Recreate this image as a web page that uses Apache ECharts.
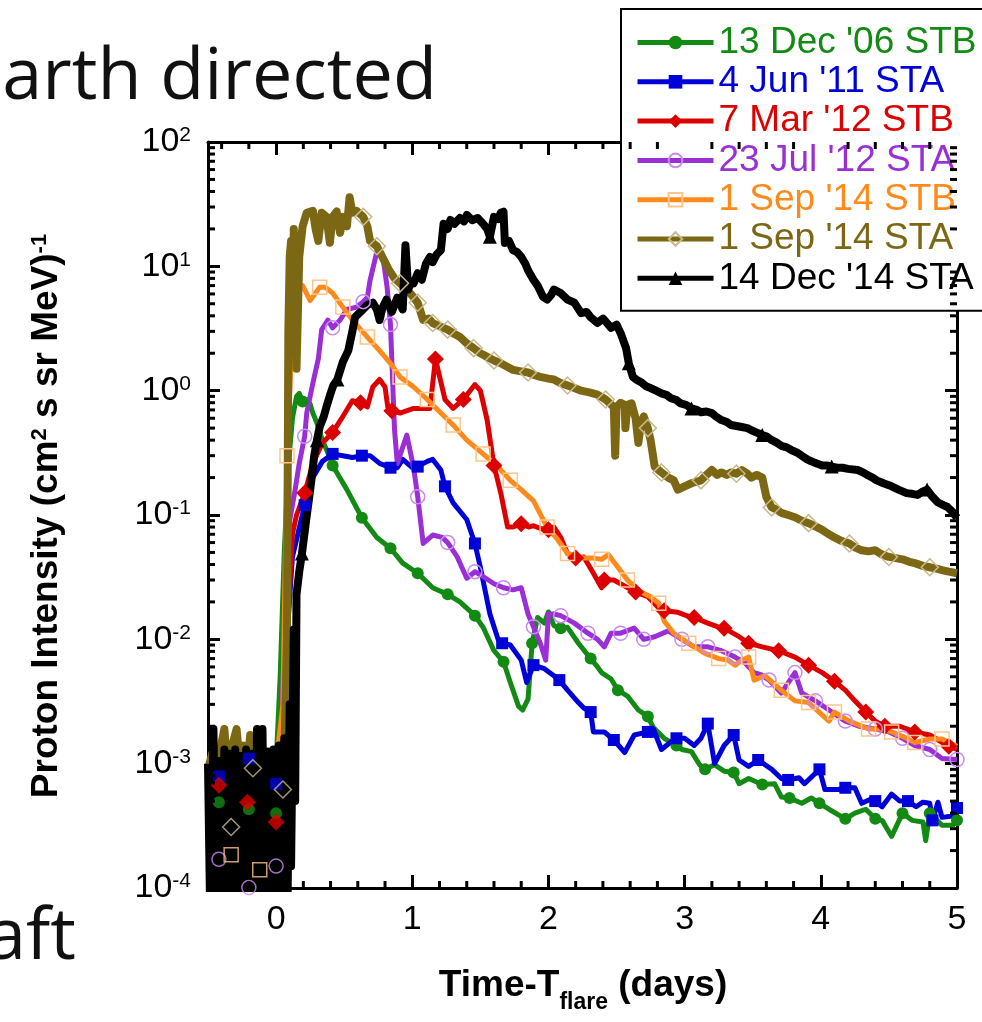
<!DOCTYPE html>
<html>
<head>
<meta charset="utf-8">
<title>Proton intensity time profiles</title>
<script src="https://cdn.jsdelivr.net/npm/echarts@6/dist/echarts.min.js"></script>
<style>
  html, body { margin: 0; padding: 0; background: #fff; }
  #chart { width: 982px; height: 1022px; }
</style>
</head>
<body>
<div id="chart"></div>
<script>
// ---- Event names (legend order) ----
const eventNames = ["13 Dec '06 STB", "4 Jun '11 STA", "7 Mar '12 STB", "23 Jul '12 STA",
                    "1 Sep '14 STB", "1 Sep '14 STA", "14 Dec '14 STA"];

// ---- Time profiles: [time - T_flare (days), intensity (cm^2 s sr MeV)^-1] ----
const dec06Stb = [
  [0.0, 1e-3], [0.03, 0.005], [0.06, 0.05], [0.09, 0.25], [0.12, 0.6], [0.15, 0.9], [0.17, 0.95],
  [0.195, 0.82], [0.225, 0.85], [0.25, 0.78], [0.27, 0.66], [0.30, 0.55], [0.34, 0.4], [0.395, 0.29],
  [0.415, 0.25], [0.52, 0.16], [0.63, 0.095], [0.74, 0.066], [0.84, 0.054], [0.93, 0.041], [1.04, 0.034],
  [1.15, 0.026], [1.26, 0.023], [1.35, 0.02], [1.46, 0.0155], [1.52, 0.0125], [1.60, 0.0081], [1.67, 0.0066],
  [1.72, 0.0045], [1.78, 0.0029], [1.81, 0.0027], [1.85, 0.0033], [1.88, 0.0093], [1.92, 0.015], [1.97, 0.0135],
  [2.00, 0.0166], [2.04, 0.0129], [2.09, 0.0123], [2.14, 0.0125], [2.22, 0.0093], [2.31, 0.0070], [2.36, 0.006],
  [2.39, 0.0054], [2.46, 0.0048], [2.51, 0.0039], [2.58, 0.0035], [2.66, 0.0027], [2.73, 0.0024], [2.77, 0.00195],
  [2.85, 0.0016], [2.94, 0.0014], [2.98, 0.0013], [3.05, 0.00125], [3.11, 0.00098], [3.15, 0.0009], [3.22, 0.00098],
  [3.29, 0.00087], [3.36, 0.00085], [3.40, 0.00069], [3.47, 0.00076], [3.57, 0.00068], [3.66, 0.00069],
  [3.71, 0.00054], [3.77, 0.00053], [3.86, 0.00048], [3.93, 0.00053], [3.99, 0.00048], [4.06, 0.00043],
  [4.18, 0.00036], [4.25, 0.00040], [4.33, 0.00043], [4.40, 0.00036], [4.45, 0.00035], [4.52, 0.00026],
  [4.60, 0.0004], [4.67, 0.00035], [4.75, 0.00034], [4.77, 0.00024], [4.80, 0.0004], [4.89, 0.00032],
  [4.97, 0.00032], [5.0, 0.00035]
];
const jun11Sta = [
  [0.0, 1e-3], [0.05, 2e-3], [0.09, 0.015], [0.12, 0.046], [0.21, 0.12], [0.27, 0.2], [0.34, 0.27],
  [0.415, 0.31], [0.49, 0.30], [0.56, 0.29], [0.63, 0.30], [0.69, 0.30], [0.76, 0.26], [0.84, 0.24],
  [0.89, 0.24], [0.93, 0.28], [1.00, 0.24], [1.04, 0.245], [1.11, 0.27], [1.15, 0.28], [1.21, 0.23],
  [1.24, 0.17], [1.30, 0.125], [1.40, 0.092], [1.46, 0.059], [1.50, 0.038], [1.57, 0.016], [1.63, 0.01],
  [1.66, 0.0093], [1.72, 0.009], [1.80, 0.0068], [1.84, 0.0045], [1.89, 0.0062], [1.97, 0.0058],
  [2.04, 0.0051], [2.08, 0.0047], [2.14, 0.0039], [2.22, 0.0031], [2.26, 0.0028], [2.31, 0.0026],
  [2.33, 0.0018], [2.41, 0.0018], [2.48, 0.00155], [2.56, 0.00123], [2.63, 0.0017], [2.73, 0.0018],
  [2.77, 0.0019], [2.83, 0.0013], [2.90, 0.0015], [2.94, 0.0016], [3.00, 0.0016], [3.07, 0.0014],
  [3.12, 0.0016], [3.17, 0.0021], [3.22, 0.001], [3.29, 0.0014], [3.36, 0.0017], [3.40, 0.00107],
  [3.47, 0.00095], [3.54, 0.00107], [3.64, 0.0009], [3.71, 0.00076], [3.76, 0.00074], [3.84, 0.00077],
  [3.88, 0.00069], [3.99, 0.0009], [4.03, 0.00062], [4.13, 0.00062], [4.18, 0.00064], [4.25, 0.00064],
  [4.30, 0.00048], [4.37, 0.00052], [4.40, 0.0005], [4.45, 0.00045], [4.52, 0.00057], [4.58, 0.0005],
  [4.64, 0.0005], [4.70, 0.00045], [4.75, 0.00049], [4.80, 0.00048], [4.82, 0.00035], [4.86, 0.00049],
  [4.89, 0.00037], [4.97, 0.00038], [5.0, 0.00044]
];
const mar12Stb = [
  [0.0, 1e-3], [0.04, 1.5e-3], [0.08, 0.01], [0.12, 0.07], [0.15, 0.1], [0.21, 0.15], [0.27, 0.26],
  [0.34, 0.38], [0.415, 0.46], [0.49, 0.62], [0.56, 0.83], [0.62, 0.80], [0.67, 0.74], [0.71, 1.07],
  [0.76, 1.23], [0.80, 1.07], [0.82, 0.74], [0.85, 0.69], [0.91, 0.66], [1.01, 0.72], [1.13, 0.72],
  [1.17, 1.8], [1.24, 0.85], [1.30, 0.72], [1.375, 0.85], [1.46, 1.12], [1.50, 1.0], [1.55, 0.58],
  [1.60, 0.25], [1.65, 0.15], [1.70, 0.08], [1.74, 0.08], [1.80, 0.085], [1.855, 0.08], [1.89, 0.082],
  [1.94, 0.078], [2.00, 0.076], [2.04, 0.08], [2.09, 0.066], [2.14, 0.049], [2.20, 0.045], [2.26, 0.046],
  [2.33, 0.034], [2.39, 0.026], [2.41, 0.030], [2.48, 0.030], [2.61, 0.025], [2.64, 0.024], [2.73, 0.022],
  [2.83, 0.017], [2.85, 0.017], [2.95, 0.0165], [3.05, 0.015], [3.07, 0.015], [3.17, 0.0135], [3.27, 0.0123],
  [3.29, 0.0123], [3.40, 0.0105], [3.47, 0.0093], [3.57, 0.0087], [3.69, 0.0081], [3.81, 0.0072],
  [3.91, 0.0062], [4.01, 0.0054], [4.10, 0.0046], [4.18, 0.0039], [4.25, 0.0032], [4.33, 0.0026],
  [4.40, 0.0022], [4.47, 0.002], [4.58, 0.002], [4.69, 0.0018], [4.80, 0.0017], [4.94, 0.00138], [5.0, 0.0013]
];
const jul12Sta = [
  [0.0, 1e-3], [0.04, 2e-3], [0.07, 0.02], [0.10, 0.09], [0.14, 0.16], [0.17, 0.26], [0.21, 0.43],
  [0.225, 0.66], [0.25, 0.9], [0.28, 1.29], [0.31, 1.8], [0.335, 3.1], [0.38, 3.7], [0.415, 3.2],
  [0.47, 3.7], [0.52, 4.5], [0.59, 4.7], [0.64, 5.2], [0.67, 5.6], [0.69, 7.7], [0.73, 11.8], [0.75, 14.4],
  [0.785, 11.8], [0.815, 6.8], [0.84, 3.4], [0.86, 0.9], [0.87, 0.48], [0.89, 0.26], [0.96, 0.44],
  [1.01, 0.24], [1.04, 0.14], [1.08, 0.059], [1.15, 0.069], [1.22, 0.066], [1.26, 0.06], [1.33, 0.046],
  [1.40, 0.031], [1.46, 0.035], [1.52, 0.032], [1.60, 0.028], [1.67, 0.026], [1.74, 0.025], [1.80, 0.026],
  [1.85, 0.016], [1.89, 0.0126], [1.94, 0.0093], [1.98, 0.0068], [2.00, 0.016], [2.04, 0.016], [2.09, 0.0155],
  [2.19, 0.0135], [2.29, 0.0112], [2.36, 0.01], [2.41, 0.0087], [2.46, 0.0112], [2.53, 0.0112], [2.63, 0.0123],
  [2.70, 0.01], [2.78, 0.0105], [2.88, 0.0117], [2.98, 0.01], [3.07, 0.0087], [3.17, 0.0087], [3.27, 0.0081],
  [3.37, 0.0072], [3.44, 0.0065], [3.51, 0.0054], [3.56, 0.0052], [3.62, 0.0047], [3.71, 0.0037],
  [3.81, 0.0054], [3.86, 0.0037], [3.96, 0.0032], [4.06, 0.0027], [4.18, 0.0022], [4.28, 0.002],
  [4.40, 0.0019], [4.50, 0.0018], [4.60, 0.0016], [4.69, 0.0014], [4.80, 0.0013], [4.89, 0.0011], [5.0, 0.00108]
];
const sep14Stb = [
  [0.0, 1e-3], [0.05, 3e-3], [0.08, 0.3], [0.11, 1.66], [0.16, 6.1], [0.195, 7.0], [0.25, 5.3], [0.32, 6.8],
  [0.36, 6.8], [0.415, 6.1], [0.49, 4.7], [0.56, 3.7], [0.67, 2.7], [0.76, 2.1], [0.84, 1.66], [0.91, 1.29],
  [1.01, 1.07], [1.11, 0.85], [1.21, 0.66], [1.30, 0.53], [1.40, 0.40], [1.52, 0.31], [1.62, 0.25],
  [1.72, 0.19], [1.80, 0.16], [1.89, 0.13], [1.99, 0.08], [2.06, 0.065], [2.14, 0.049], [2.26, 0.045],
  [2.33, 0.045], [2.39, 0.044], [2.44, 0.048], [2.51, 0.038], [2.58, 0.030], [2.68, 0.024], [2.75, 0.022],
  [2.81, 0.0195], [2.85, 0.014], [2.92, 0.0112], [3.03, 0.0093], [3.15, 0.0077], [3.25, 0.007],
  [3.32, 0.0068], [3.37, 0.0062], [3.42, 0.0068], [3.47, 0.0072], [3.51, 0.0047], [3.59, 0.0051],
  [3.71, 0.0039], [3.81, 0.0032], [3.91, 0.0031], [4.06, 0.0022], [4.10, 0.0026], [4.21, 0.0022],
  [4.35, 0.0019], [4.45, 0.0019], [4.52, 0.0018], [4.60, 0.00166], [4.69, 0.00148], [4.80, 0.00158],
  [4.89, 0.00158], [5.0, 0.00138]
];
const sep14Sta = [
  [-0.50, 9e-4], [-0.47, 1.2e-3], [-0.44, 8e-4], [-0.41, 1.3e-3], [-0.38, 1.9e-3], [-0.36, 1.0e-3],
  [-0.33, 1.3e-3], [-0.29, 1.9e-3], [-0.27, 1.1e-3], [-0.24, 1.4e-3], [-0.21, 1.0e-3], [-0.19, 1.7e-3],
  [-0.16, 1.1e-3], [-0.13, 1.2e-3], [-0.10, 9e-4], [-0.06, 1.1e-3], [-0.02, 1.0e-3], [0.02, 1.2e-3],
  [0.06, 1.1e-3], [0.08, 0.01], [0.09, 3], [0.10, 12], [0.11, 16], [0.12, 2], [0.13, 20], [0.15, 1.5],
  [0.17, 12], [0.195, 21], [0.225, 27], [0.27, 28], [0.29, 20], [0.31, 16], [0.335, 27], [0.37, 25],
  [0.395, 15.5], [0.415, 25], [0.445, 27.6], [0.47, 18.6], [0.49, 25], [0.52, 21], [0.54, 36], [0.56, 27],
  [0.59, 28], [0.64, 25], [0.67, 21], [0.69, 16], [0.74, 14.5], [0.78, 11.9], [0.83, 9.3], [0.87, 8],
  [0.91, 7.3], [0.96, 6.5], [1.00, 5.8], [1.04, 5.1], [1.08, 3.7], [1.12, 3.8], [1.15, 3.5], [1.20, 3.3],
  [1.26, 3.1], [1.30, 2.9], [1.35, 2.7], [1.40, 2.4], [1.45, 2.2], [1.50, 2.0], [1.55, 1.87], [1.60, 1.75],
  [1.65, 1.66], [1.70, 1.55], [1.74, 1.47], [1.80, 1.43], [1.85, 1.4], [1.90, 1.33], [1.94, 1.29],
  [2.00, 1.25], [2.04, 1.23], [2.09, 1.15], [2.14, 1.1], [2.19, 1.05], [2.24, 1.0], [2.30, 0.97],
  [2.36, 0.93], [2.42, 0.85], [2.48, 0.74], [2.49, 0.30], [2.50, 0.74], [2.53, 0.8], [2.56, 0.77],
  [2.565, 0.5], [2.58, 0.77], [2.61, 0.79], [2.64, 0.6], [2.66, 0.38], [2.68, 0.55], [2.70, 0.62],
  [2.73, 0.5], [2.75, 0.40], [2.78, 0.245], [2.83, 0.22], [2.88, 0.2], [2.92, 0.19], [2.95, 0.16],
  [3.00, 0.17], [3.05, 0.18], [3.12, 0.19], [3.16, 0.21], [3.20, 0.23], [3.24, 0.21], [3.27, 0.22],
  [3.31, 0.21], [3.34, 0.22], [3.38, 0.215], [3.42, 0.23], [3.46, 0.215], [3.49, 0.2], [3.53, 0.21],
  [3.57, 0.2], [3.60, 0.14], [3.64, 0.115], [3.68, 0.11], [3.71, 0.104], [3.76, 0.1], [3.81, 0.096],
  [3.86, 0.09], [3.91, 0.086], [3.96, 0.081], [4.01, 0.076], [4.05, 0.071], [4.10, 0.066], [4.15, 0.062],
  [4.21, 0.059], [4.25, 0.055], [4.30, 0.052], [4.35, 0.051], [4.40, 0.052], [4.45, 0.048], [4.50, 0.046],
  [4.55, 0.045], [4.60, 0.044], [4.65, 0.042], [4.69, 0.041], [4.75, 0.039], [4.80, 0.038], [4.85, 0.037],
  [4.89, 0.036], [4.94, 0.035], [5.0, 0.034]
];
const dec14Sta = [
  [-0.50, 1.0e-3], [-0.48, 3e-5], [-0.46, 1.9e-3], [-0.44, 3e-5], [-0.42, 1.05e-3], [-0.40, 3e-5],
  [-0.38, 1.3e-3], [-0.36, 3e-5], [-0.34, 1.2e-3], [-0.32, 3e-5], [-0.30, 1.3e-3], [-0.28, 3e-5],
  [-0.26, 1.15e-3], [-0.24, 3e-5], [-0.22, 1.3e-3], [-0.20, 3e-5], [-0.18, 1.2e-3], [-0.16, 3e-5],
  [-0.14, 1.9e-3], [-0.12, 3e-5], [-0.10, 1.9e-3], [-0.08, 3e-5], [-0.06, 1.25e-3], [-0.04, 3e-5],
  [-0.02, 1.3e-3], [0.00, 3e-5], [0.02, 1.4e-3], [0.04, 3e-5], [0.06, 1.6e-3], [0.08, 3e-5],
  [0.10, 3e-3], [0.11, 1.5e-4], [0.13, 0.012], [0.14, 5e-4], [0.15, 0.023], [0.17, 0.035], [0.19, 0.049],
  [0.22, 0.09], [0.25, 0.158], [0.28, 0.3], [0.30, 0.4], [0.32, 0.51], [0.35, 0.62], [0.37, 0.74],
  [0.40, 0.95], [0.42, 1.1], [0.45, 1.23], [0.49, 1.7], [0.53, 2.1], [0.56, 3.0], [0.58, 3.9], [0.62, 4.3],
  [0.67, 4.9], [0.71, 5.1], [0.74, 4.5], [0.76, 3.7], [0.78, 4.6], [0.81, 5.4], [0.85, 4.3], [0.89, 5.6],
  [0.93, 4.5], [0.95, 14.8], [0.97, 6.5], [0.99, 7.5], [1.01, 7.3], [1.04, 8.8], [1.07, 7.8], [1.10, 10.5],
  [1.13, 11.9], [1.15, 10.8], [1.18, 12.5], [1.21, 13.5], [1.23, 22], [1.26, 20], [1.28, 23.6], [1.31, 22],
  [1.35, 24.5], [1.38, 23], [1.40, 25.9], [1.44, 23.5], [1.48, 24.5], [1.52, 22], [1.55, 20], [1.57, 17.3],
  [1.60, 25], [1.63, 24], [1.65, 27], [1.67, 27.5], [1.68, 15.4], [1.71, 16], [1.74, 13.5], [1.77, 13],
  [1.80, 11.9], [1.83, 10.5], [1.85, 9.3], [1.89, 7.8], [1.92, 7.0], [1.96, 5.7], [1.99, 5.4], [2.02, 5.9],
  [2.04, 6.5], [2.09, 6.1], [2.14, 5.4], [2.19, 5.1], [2.24, 4.2], [2.28, 4.3], [2.31, 3.9], [2.36, 3.5],
  [2.40, 3.8], [2.42, 3.6], [2.46, 3.2], [2.50, 3.4], [2.53, 2.9], [2.57, 2.2], [2.59, 1.66], [2.62, 1.29],
  [2.65, 1.22], [2.68, 1.17], [2.72, 1.08], [2.75, 1.05], [2.79, 1.0], [2.83, 0.95], [2.87, 0.92],
  [2.90, 0.87], [2.94, 0.84], [2.97, 0.79], [3.01, 0.77], [3.05, 0.72], [3.09, 0.70], [3.12, 0.67],
  [3.16, 0.68], [3.20, 0.66], [3.23, 0.62], [3.27, 0.58], [3.31, 0.56], [3.34, 0.53], [3.38, 0.52],
  [3.42, 0.51], [3.46, 0.50], [3.49, 0.48], [3.53, 0.46], [3.57, 0.44], [3.60, 0.43], [3.64, 0.40],
  [3.68, 0.38], [3.71, 0.36], [3.75, 0.35], [3.79, 0.33], [3.82, 0.32], [3.86, 0.30], [3.90, 0.28],
  [3.93, 0.27], [3.97, 0.26], [4.01, 0.25], [4.05, 0.25], [4.08, 0.245], [4.12, 0.24], [4.16, 0.24],
  [4.20, 0.235], [4.27, 0.23], [4.31, 0.22], [4.34, 0.21], [4.38, 0.20], [4.41, 0.19], [4.46, 0.18],
  [4.52, 0.17], [4.57, 0.16], [4.63, 0.15], [4.67, 0.148], [4.71, 0.145], [4.75, 0.155], [4.78, 0.16],
  [4.82, 0.14], [4.86, 0.126], [4.90, 0.12], [4.93, 0.116], [4.97, 0.105], [5.0, 0.095]
];

// ---- Times at which each profile carries a plot symbol ----
const dec06StbMarks = [0.195, 0.415, 0.63, 0.84, 1.04, 1.26, 1.46, 1.67, 1.88, 2.09, 2.31, 2.51, 2.73, 2.94,
                       3.15, 3.36, 3.57, 3.77, 3.99, 4.18, 4.40, 4.60, 4.80, 5.0];
const jun11StaMarks = [0.21, 0.415, 0.63, 0.84, 1.04, 1.24, 1.46, 1.66, 1.89, 2.08, 2.31, 2.48, 2.73, 2.94,
                       3.17, 3.36, 3.54, 3.76, 3.99, 4.18, 4.40, 4.64, 4.82, 5.0];
const mar12StbMarks = [0.21, 0.415, 0.62, 0.85, 1.17, 1.375, 1.60, 1.80, 2.00, 2.20, 2.41, 2.64, 2.85, 3.07,
                       3.29, 3.47, 3.69, 3.91, 4.10, 4.33, 4.47, 4.69, 4.94];
const jul12StaMarks = [0.21, 0.415, 0.64, 0.84, 1.04, 1.26, 1.46, 1.67, 1.89, 2.09, 2.29, 2.53, 2.70, 2.98,
                       3.17, 3.37, 3.62, 3.81, 3.96, 4.18, 4.40, 4.60, 4.80, 5.0];
const sep14StbMarks = [0.08, 0.32, 0.49, 0.67, 0.91, 1.11, 1.30, 1.52, 1.72, 1.99, 2.14, 2.39, 2.58, 2.81,
                       3.03, 3.25, 3.47, 3.71, 3.91, 4.10, 4.35, 4.52, 4.69, 4.89];
const sep14StaMarks = [0.64, 0.74, 0.91, 1.04, 1.15, 1.26, 1.45, 1.60, 1.85, 2.14, 2.42, 2.73, 2.83, 3.12,
                       3.38, 3.64, 3.91, 4.21, 4.50, 4.80];
const dec14StaMarks = [0.19, 0.30, 0.45, 1.57, 2.59, 3.05, 3.57, 4.08, 4.78];

// ---- Pre-flare background samples (symbols only) ----
const dec06StbPre = [[-0.42, 4.9e-4], [-0.20, 4.3e-4], [0.0, 4.0e-4]];
const jun11StaPre = [[-0.42, 7.9e-4], [-0.20, 1.1e-3], [0.0, 6.9e-4]];
const mar12StbPre = [[-0.42, 6.7e-4], [-0.21, 4.9e-4], [0.0, 3.4e-4]];
const jul12StaPre = [[-0.42, 1.7e-4], [-0.20, 1.01e-4], [0.0, 1.5e-4]];
const sep14StbPre = [[-0.33, 1.85e-4], [-0.12, 1.4e-4]];
const sep14StaPre = [[-0.33, 3.1e-4], [-0.17, 9.2e-4], [0.05, 6.2e-4]];

// ---- Axis ranges and minor tick positions ----
const xRange = [-0.5, 5];
const yRange = [1e-4, 1e2];
const xMinorTicks = [-0.4, -0.2, 0.2, 0.4, 0.6, 0.8, 1.2, 1.4, 1.6, 1.8, 2.2, 2.4, 2.6, 2.8,
                     3.2, 3.4, 3.6, 3.8, 4.2, 4.4, 4.6, 4.8];
const yMinorMantissas = [2, 3, 4, 5, 6, 7, 8, 9];
const yDecades = [-4, -3, -2, -1, 0, 1];

// ---- Styling per event ----
const styles = [
  { color: '#138a13', symbol: 'circle', size: 12, width: 5, item: { color: '#138a13' } },
  { color: '#0000d8', symbol: 'rect', size: 12, width: 5, item: { color: '#0000d8' } },
  { color: '#dc0000', symbol: 'diamond', size: 17, width: 5, item: { color: '#dc0000' } },
  { color: '#9a2fd6', symbol: 'circle', size: 14, width: 5,
    item: { color: 'rgba(255,255,255,0)', borderColor: '#c88cf0', borderWidth: 1.5 } },
  { color: '#ff8a1c', symbol: 'rect', size: 14, width: 5,
    item: { color: 'rgba(255,255,255,0)', borderColor: '#ffc48a', borderWidth: 1.5 } },
  { color: '#7c6814', symbol: 'diamond', size: 17, width: 8,
    item: { color: 'rgba(255,255,255,0)', borderColor: '#c9b98a', borderWidth: 1.5 } },
  { color: '#000000', symbol: 'triangle', size: 14, width: 8, item: { color: '#000000' } }
];
const profiles = [dec06Stb, jun11Sta, mar12Stb, jul12Sta, sep14Stb, sep14Sta, dec14Sta];
const marks = [dec06StbMarks, jun11StaMarks, mar12StbMarks, jul12StaMarks, sep14StbMarks, sep14StaMarks, dec14StaMarks];
const preFlare = [dec06StbPre, jun11StaPre, mar12StbPre, jul12StaPre, sep14StbPre, sep14StaPre, null];

const FONT = '"Liberation Sans", Arial, sans-serif';

function profileSeries(i) {
  const st = styles[i];
  const markSet = new Set(marks[i]);
  return {
    type: 'line',
    name: eventNames[i],
    data: profiles[i].map(p => markSet.has(p[0]) ? p : { value: p, symbol: 'none' }),
    symbol: st.symbol,
    symbolSize: st.size,
    showSymbol: true,
    color: st.color,
    lineStyle: { color: st.color, width: st.width, join: 'round' },
    itemStyle: st.item,
    clip: true,
    z: 2,
    emphasis: { disabled: true },
    animation: false
  };
}

function preFlareSeries(i) {
  const st = styles[i];
  return {
    type: 'scatter',
    name: eventNames[i],
    data: preFlare[i],
    symbol: st.symbol,
    symbolSize: st.size,
    color: st.color,
    itemStyle: st.item,
    z: 4,
    emphasis: { disabled: true },
    animation: false
  };
}

// minor ticks along bottom/top (x) and left/right (y), drawn through the axis scales
const xMinorData = xMinorTicks.map(v => [v, yRange[0]]);
const yMinorData = [];
yDecades.forEach(d => yMinorMantissas.forEach(m => yMinorData.push([xRange[0], m * Math.pow(10, d)])));

const tickSeries = [
  {
    type: 'custom', silent: true, z: 6, clip: false, animation: false,
    data: xMinorData,
    renderItem: (params, api) => {
      const v = api.value(0);
      const b = api.coord([v, yRange[0]]);
      const t = api.coord([v, yRange[1]]);
      return { type: 'group', children: [
        { type: 'line', shape: { x1: b[0], y1: b[1], x2: b[0], y2: b[1] - 7 }, style: { stroke: '#000', lineWidth: 3 } },
        { type: 'line', shape: { x1: t[0], y1: t[1], x2: t[0], y2: t[1] + 7 }, style: { stroke: '#000', lineWidth: 3 } }
      ]};
    }
  },
  {
    type: 'custom', silent: true, z: 6, clip: false, animation: false,
    data: yMinorData,
    renderItem: (params, api) => {
      const v = api.value(1);
      const l = api.coord([xRange[0], v]);
      const r = api.coord([xRange[1], v]);
      return { type: 'group', children: [
        { type: 'line', shape: { x1: l[0], y1: l[1], x2: l[0] + 7, y2: l[1] }, style: { stroke: '#000', lineWidth: 3 } },
        { type: 'line', shape: { x1: r[0], y1: r[1], x2: r[0] - 7, y2: r[1] }, style: { stroke: '#000', lineWidth: 3 } }
      ]};
    }
  }
];

const series = [];
for (let i = 0; i < eventNames.length; i++) series.push(profileSeries(i));
for (let i = 0; i < eventNames.length; i++) if (preFlare[i]) series.push(preFlareSeries(i));
series.push(...tickSeries);

const axisLineStyle = { color: '#000', width: 3 };

const option = {
  backgroundColor: '#fff',
  animation: false,
  grid: { left: 208, top: 142, right: 25, bottom: 134, containLabel: false },
  xAxis: [
    {
      type: 'value', min: xRange[0], max: xRange[1], position: 'bottom',
      axisLine: { show: true, onZero: false, lineStyle: axisLineStyle },
      axisTick: { show: true, inside: true, length: 13, lineStyle: { color: '#000', width: 3 } },
      axisLabel: {
        show: true, margin: 15, color: '#000', fontFamily: FONT, fontSize: 34,
        formatter: v => Number.isInteger(v) ? String(v) : ''
      },
      splitLine: { show: false }
    },
    {
      type: 'value', min: xRange[0], max: xRange[1], position: 'top',
      axisLine: { show: true, onZero: false, lineStyle: axisLineStyle },
      axisTick: { show: true, inside: true, length: 13, lineStyle: { color: '#000', width: 3 } },
      axisLabel: { show: false },
      splitLine: { show: false }
    }
  ],
  yAxis: [
    {
      type: 'log', logBase: 10, min: yRange[0], max: yRange[1], splitNumber: 6, position: 'left',
      axisLine: { show: true, onZero: false, lineStyle: axisLineStyle },
      axisTick: { show: true, inside: true, length: 12, lineStyle: { color: '#000', width: 3 } },
      axisLabel: {
        show: true, margin: 17, color: '#000',
        formatter: v => '{b|10}{e|' + Math.round(Math.log10(v)) + '}',
        rich: {
          b: { fontFamily: FONT, fontSize: 34, lineHeight: 34, color: '#000' },
          e: { fontFamily: FONT, fontSize: 21, lineHeight: 21, verticalAlign: 'top', color: '#000' }
        }
      },
      splitLine: { show: false }
    },
    {
      type: 'log', logBase: 10, min: yRange[0], max: yRange[1], splitNumber: 6, position: 'right',
      axisLine: { show: true, onZero: false, lineStyle: axisLineStyle },
      axisTick: { show: true, inside: true, length: 12, lineStyle: { color: '#000', width: 3 } },
      axisLabel: { show: false },
      splitLine: { show: false }
    }
  ],
  legend: {
    orient: 'vertical', left: 621, top: 9,
    padding: [15, 40, 14, 14],
    itemWidth: 76, itemHeight: 17, itemGap: 2.3,
    borderColor: '#000', borderWidth: 2, backgroundColor: '#fff',
    selectedMode: false,
    lineStyle: { width: 5 },
    textStyle: { fontFamily: FONT, fontSize: 37 },
    data: eventNames.map((n, i) => ({ name: n, textStyle: { color: styles[i].color } }))
  },
  graphic: [
    {
      type: 'text', x: 437, y: 78, silent: true,
      style: { text: 'Earth directed', font: '72px "Open Sans", sans-serif', fill: '#111',
               align: 'right', verticalAlign: 'middle' }
    },
    {
      type: 'text', x: 76, y: 938, silent: true,
      style: { text: 'spacecraft', font: '72px "Open Sans", sans-serif', fill: '#111',
               align: 'right', verticalAlign: 'middle' }
    },
    {
      type: 'text', x: 47, y: 516, rotation: Math.PI / 2, silent: true,
      style: {
        text: '{t|Proton Intensity (cm}{s|2}{t| s sr MeV)}{s|-1}',
        align: 'center', verticalAlign: 'middle',
        rich: {
          t: { fontFamily: FONT, fontWeight: 'bold', fontSize: 37, lineHeight: 37, fill: '#000' },
          s: { fontFamily: FONT, fontWeight: 'bold', fontSize: 22, lineHeight: 22, verticalAlign: 'top', fill: '#000' }
        }
      }
    },
    {
      type: 'text', x: 583, y: 967, silent: true,
      style: {
        text: '{t|Time-T}{s|flare}{t| (days)}',
        align: 'center', verticalAlign: 'top',
        rich: {
          t: { fontFamily: FONT, fontWeight: 'bold', fontSize: 37, lineHeight: 37, verticalAlign: 'top', fill: '#000' },
          s: { fontFamily: FONT, fontWeight: 'bold', fontSize: 23, lineHeight: 47, verticalAlign: 'bottom', fill: '#000' }
        }
      }
    }
  ],
  series: series
};

const chart = echarts.init(document.getElementById('chart'), null, { renderer: 'canvas' });
chart.setOption(option);
</script>
</body>
</html>
